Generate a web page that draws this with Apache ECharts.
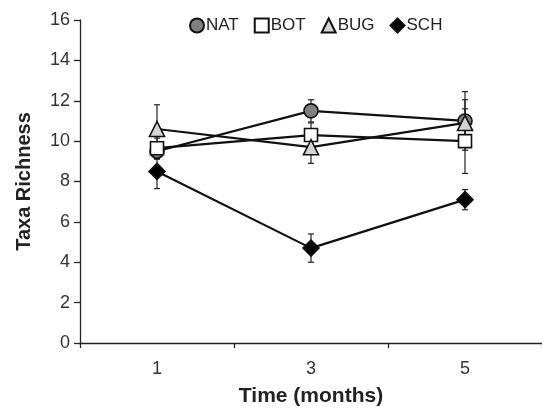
<!DOCTYPE html>
<html>
<head>
<meta charset="utf-8">
<script src="https://cdn.jsdelivr.net/npm/echarts@6/dist/echarts.min.js"></script>
<style>html,body{margin:0;padding:0;background:#fff}#c{width:542px;height:409px}</style>
</head>
<body>
<div id="c"></div>
<script>
const categories = ['1', '3', '5'];
const yTicks = [0, 2, 4, 6, 8, 10, 12, 14, 16];
const natValues = [9.5, 11.5, 11.0];
const natErr = [0.4, 0.55, 1.45];
const botValues = [9.65, 10.3, 10.0];
const botErr = [0.5, 0.6, 1.6];
const bugValues = [10.6, 9.7, 10.9];
const bugErr = [1.2, 0.8, 1.15];
const schValues = [8.5, 4.7, 7.1];
const schErr = [0.85, 0.7, 0.5];

const FONT = 'Liberation Sans';

function errData(vals, errs) {
  return vals.map((v, i) => [i, v - errs[i], v + errs[i]]);
}
function errSeries(name, vals, errs, z) {
  return {
    type: 'custom',
    name: name + '_err',
    z: z,
    silent: true,
    data: errData(vals, errs),
    encode: { x: 0, y: [1, 2] },
    renderItem: function (params, api) {
      const x = api.value(0);
      const lo = api.coord([x, api.value(1)]);
      const hi = api.coord([x, api.value(2)]);
      const w = 3;
      const st = { stroke: '#222', lineWidth: 1.2 };
      return {
        type: 'group',
        children: [
          { type: 'line', shape: { x1: lo[0], y1: lo[1], x2: hi[0], y2: hi[1] }, style: st },
          { type: 'line', shape: { x1: lo[0] - w, y1: lo[1], x2: lo[0] + w, y2: lo[1] }, style: st },
          { type: 'line', shape: { x1: hi[0] - w, y1: hi[1], x2: hi[0] + w, y2: hi[1] }, style: st }
        ]
      };
    }
  };
}
function lineSeries(name, vals, symbol, size, fill, z) {
  return {
    type: 'line',
    name: name,
    z: z,
    data: vals,
    symbol: symbol,
    symbolSize: size,
    showAllSymbol: true,
    lineStyle: { color: '#111', width: 2.2 },
    itemStyle: { color: fill, borderColor: '#111', borderWidth: 1.6 },
    emphasis: { disabled: true },
    animation: false
  };
}

const chart = echarts.init(document.getElementById('c'), null, { renderer: 'canvas' });
chart.setOption({
  animation: false,
  backgroundColor: '#fff',
  textStyle: { fontFamily: FONT },
  grid: { left: 80, right: 0, top: 20, bottom: 66, containLabel: false, outerBoundsMode: 'none' },
  legend: {
    top: 12,
    left: 184,
    itemWidth: 14,
    itemHeight: 14,
    itemGap: 15,
    textStyle: { fontFamily: FONT, fontSize: 17, color: '#222', padding: [0, 0, 0, -3] },
    data: [
      { name: 'NAT', icon: 'circle' },
      { name: 'BOT', icon: 'rect' },
      { name: 'BUG', icon: 'triangle' },
      { name: 'SCH', icon: 'diamond' }
    ]
  },
  xAxis: {
    type: 'category',
    data: categories,
    boundaryGap: true,
    name: 'Time (months)',
    nameLocation: 'middle',
    nameGap: 43,
    nameTextStyle: { fontFamily: FONT, fontSize: 21, fontWeight: 'bold', color: '#222' },
    axisLine: { lineStyle: { color: '#222', width: 1.3 } },
    axisTick: { show: true, length: 5, lineStyle: { color: '#222', width: 1.3 } },
    axisLabel: { fontFamily: FONT, fontSize: 18, color: '#333', margin: 17 },
    splitLine: { show: false }
  },
  yAxis: {
    type: 'value',
    min: yTicks[0],
    max: yTicks[yTicks.length - 1],
    interval: 2,
    name: 'Taxa Richness',
    nameLocation: 'middle',
    nameRotate: 90,
    nameGap: 46,
    nameTextStyle: { fontFamily: FONT, fontSize: 20, fontWeight: 'bold', color: '#222' },
    axisLine: { show: true, lineStyle: { color: '#222', width: 1.3 } },
    axisTick: { show: true, length: 6, lineStyle: { color: '#222', width: 1.3 } },
    axisLabel: { fontFamily: FONT, fontSize: 18, color: '#333', margin: 10 },
    splitLine: { show: false }
  },
  series: [
    errSeries('NAT', natValues, natErr, 1),
    errSeries('BOT', botValues, botErr, 1),
    errSeries('BUG', bugValues, bugErr, 1),
    errSeries('SCH', schValues, schErr, 1),
    lineSeries('NAT', natValues, 'circle', 14, '#808080', 2),
    lineSeries('BOT', botValues, 'rect', 13, '#ffffff', 3),
    lineSeries('BUG', bugValues, 'triangle', 15, '#d4d4d4', 4),
    lineSeries('SCH', schValues, 'diamond', 16, '#000000', 5)
  ]
});
</script>
</body>
</html>
